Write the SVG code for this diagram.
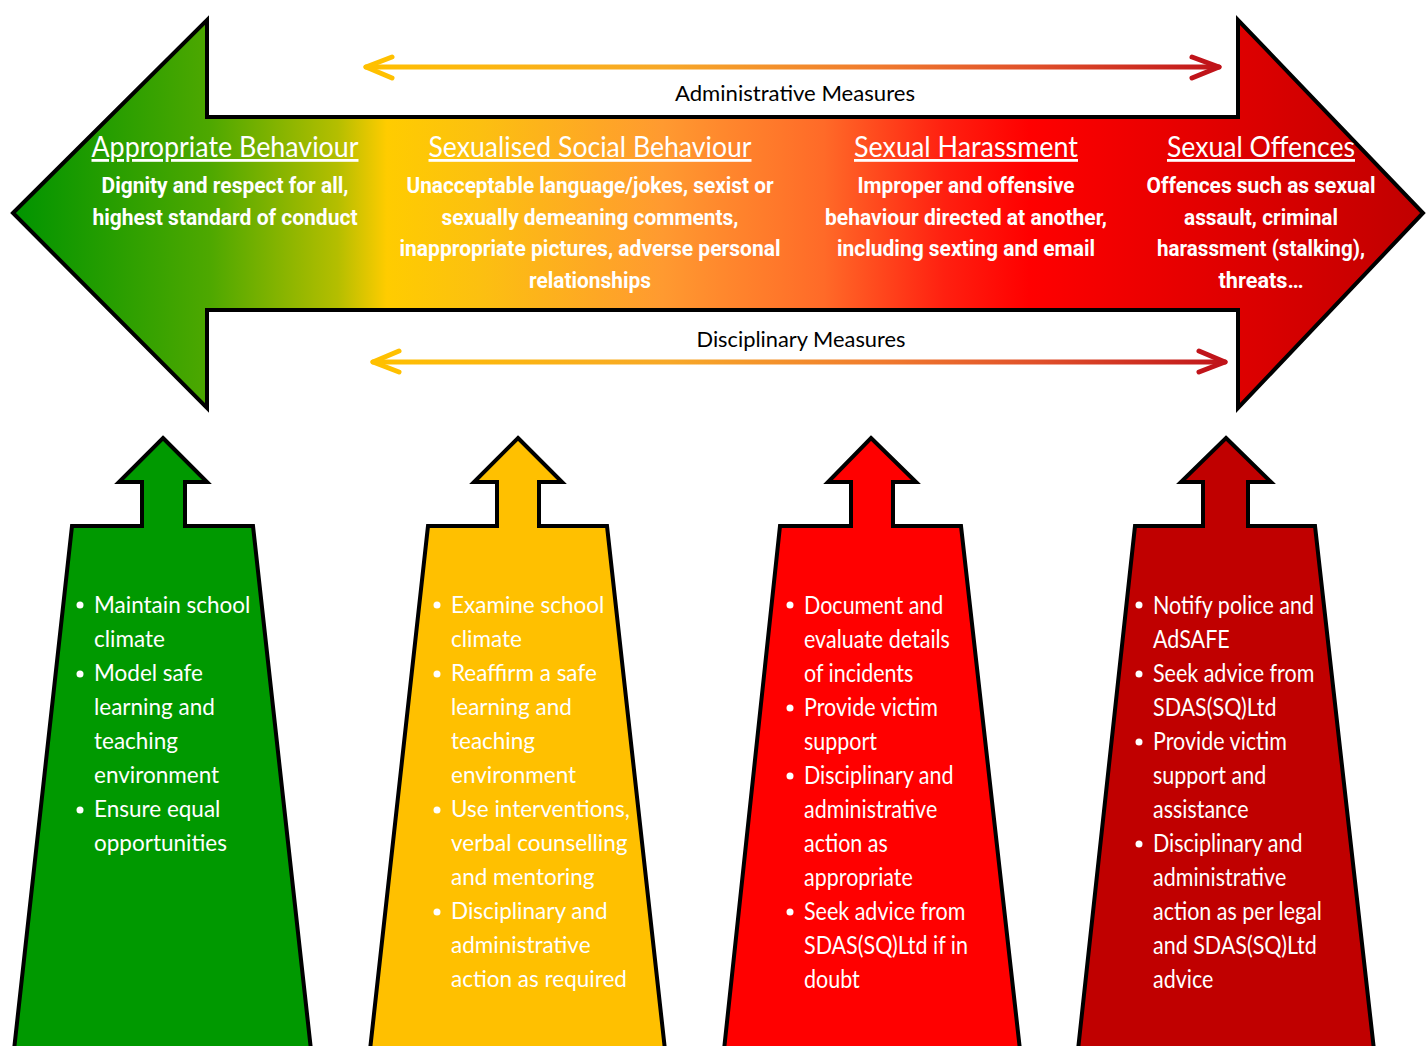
<svg xmlns="http://www.w3.org/2000/svg" width="1426" height="1046" viewBox="0 0 1426 1046">
<defs>
<linearGradient id="bigGrad" gradientUnits="userSpaceOnUse" x1="13" y1="0" x2="1424" y2="0">
<stop offset="0" stop-color="#009400"/>
<stop offset="0.14" stop-color="#4EA800"/>
<stop offset="0.23" stop-color="#B4BE00"/>
<stop offset="0.265" stop-color="#FFCC00"/>
<stop offset="0.33" stop-color="#FCC010"/>
<stop offset="0.46" stop-color="#FF9A30"/>
<stop offset="0.575" stop-color="#FF6A28"/>
<stop offset="0.66" stop-color="#FF2010"/>
<stop offset="0.72" stop-color="#FF0000"/>
<stop offset="1" stop-color="#C00000"/>
</linearGradient>
<linearGradient id="topLine" gradientUnits="userSpaceOnUse" x1="365" y1="0" x2="1220" y2="0">
<stop offset="0" stop-color="#FFC000"/>
<stop offset="0.35" stop-color="#F7A828"/>
<stop offset="0.6" stop-color="#F07A2E"/>
<stop offset="0.78" stop-color="#E0502A"/>
<stop offset="1" stop-color="#C0141A"/>
</linearGradient>
<linearGradient id="botLine" gradientUnits="userSpaceOnUse" x1="372" y1="0" x2="1226" y2="0">
<stop offset="0" stop-color="#FFC000"/>
<stop offset="0.35" stop-color="#F7A828"/>
<stop offset="0.6" stop-color="#F07A2E"/>
<stop offset="0.78" stop-color="#E0502A"/>
<stop offset="1" stop-color="#C0141A"/>
</linearGradient>
</defs>
<style>
.outline{stroke:#000;stroke-width:4;stroke-linejoin:miter}
.measure{fill:none;stroke-width:5;stroke-linecap:round;stroke-linejoin:round}
.head{font-family:Lato,"Liberation Sans",sans-serif;font-size:28px;fill:#fff;text-anchor:middle;text-decoration:underline}
.sub{font-family:Roboto,"Liberation Sans",sans-serif;font-weight:bold;font-size:22.5px;fill:#fff;text-anchor:middle}
.mlabel{font-family:Lato,"Liberation Sans",sans-serif;font-size:21px;fill:#000;text-anchor:middle}
.bul{font-family:Lato,"Liberation Sans",sans-serif;font-size:22.5px;fill:#fff}
.bulc{font-family:Lato,"Liberation Sans",sans-serif;font-size:25px;fill:#fff}
.dot{fill:#fff}
</style>
<rect width="1426" height="1046" fill="#fff"/>

<g id="main-arrow">
<path class="outline" fill="url(#bigGrad)" d="M13,213 L207,20 L207,117 L1238,117 L1238,20 L1423,213 L1238,408 L1238,310 L207,310 L207,408 Z"/>
<text class="head" x="225" y="157" textLength="267" lengthAdjust="spacingAndGlyphs">Appropriate Behaviour</text>
<text class="sub" x="225" y="193" textLength="247" lengthAdjust="spacingAndGlyphs">Dignity and respect for all,</text>
<text class="sub" x="225" y="225" textLength="265" lengthAdjust="spacingAndGlyphs">highest standard of conduct</text>
<text class="head" x="590" y="157" textLength="323" lengthAdjust="spacingAndGlyphs">Sexualised Social Behaviour</text>
<text class="sub" x="590" y="193" textLength="367" lengthAdjust="spacingAndGlyphs">Unacceptable language/jokes, sexist or</text>
<text class="sub" x="590" y="225" textLength="297" lengthAdjust="spacingAndGlyphs">sexually demeaning comments,</text>
<text class="sub" x="590" y="256" textLength="381" lengthAdjust="spacingAndGlyphs">inappropriate pictures, adverse personal</text>
<text class="sub" x="590" y="288" textLength="122" lengthAdjust="spacingAndGlyphs">relationships</text>
<text class="head" x="966" y="157" textLength="224" lengthAdjust="spacingAndGlyphs">Sexual Harassment</text>
<text class="sub" x="966" y="193" textLength="217" lengthAdjust="spacingAndGlyphs">Improper and offensive</text>
<text class="sub" x="966" y="225" textLength="282" lengthAdjust="spacingAndGlyphs">behaviour directed at another,</text>
<text class="sub" x="966" y="256" textLength="258" lengthAdjust="spacingAndGlyphs">including sexting and email</text>
<text class="head" x="1261" y="157" textLength="188" lengthAdjust="spacingAndGlyphs">Sexual Offences</text>
<text class="sub" x="1261" y="193" textLength="229" lengthAdjust="spacingAndGlyphs">Offences such as sexual</text>
<text class="sub" x="1261" y="225" textLength="154" lengthAdjust="spacingAndGlyphs">assault, criminal</text>
<text class="sub" x="1261" y="256" textLength="208" lengthAdjust="spacingAndGlyphs">harassment (stalking),</text>
<text class="sub" x="1261" y="288" textLength="85" lengthAdjust="spacingAndGlyphs">threats…</text>
</g>

<g id="connectors">
<g id="admin-measures">
<path class="measure" stroke="url(#topLine)" d="M366,67 L1219,67"/>
<path class="measure" stroke="#FFC000" d="M392,57 L366,67 L392,78"/>
<path class="measure" stroke="#C0141A" d="M1192,57 L1219,67 L1192,78"/>
</g>
<g id="disc-measures">
<path class="measure" stroke="url(#botLine)" d="M373,362 L1225,362"/>
<path class="measure" stroke="#FFC000" d="M399,351 L373,362 L399,372"/>
<path class="measure" stroke="#C0141A" d="M1199,351 L1225,362 L1199,372"/>
</g>
</g>
<text class="mlabel" x="795" y="101" textLength="240" lengthAdjust="spacingAndGlyphs">Administrative Measures</text>
<text class="mlabel" x="801" y="347" textLength="209" lengthAdjust="spacingAndGlyphs">Disciplinary Measures</text>

<g id="col-green">
<path class="outline" fill="#009900" d="M163,438 L207,482 L185,482 L185,526 L253,526 L311,1050 L14,1050 L72,526 L142,526 L142,482 L119,482 Z"/>
<circle class="dot" cx="80" cy="605" r="3.5"/>
<circle class="dot" cx="80" cy="674" r="3.5"/>
<circle class="dot" cx="80" cy="810" r="3.5"/>
<text class="bul" x="94">
<tspan x="94" y="613">Maintain school</tspan>
<tspan x="94" y="647">climate</tspan>
<tspan x="94" y="681">Model safe</tspan>
<tspan x="94" y="715">learning and</tspan>
<tspan x="94" y="749">teaching</tspan>
<tspan x="94" y="783">environment</tspan>
<tspan x="94" y="817">Ensure equal</tspan>
<tspan x="94" y="851">opportunities</tspan>
</text>
</g>

<g id="col-yellow">
<path class="outline" fill="#FFC000" d="M518,438 L562,482 L539,482 L539,526 L607,526 L665,1050 L370,1050 L428,526 L497,526 L497,482 L474,482 Z"/>
<circle class="dot" cx="437" cy="605" r="3.5"/>
<circle class="dot" cx="437" cy="674" r="3.5"/>
<circle class="dot" cx="437" cy="810" r="3.5"/>
<circle class="dot" cx="437" cy="912" r="3.5"/>
<text class="bul">
<tspan x="451" y="613">Examine school</tspan>
<tspan x="451" y="647">climate</tspan>
<tspan x="451" y="681">Reaffirm a safe</tspan>
<tspan x="451" y="715">learning and</tspan>
<tspan x="451" y="749">teaching</tspan>
<tspan x="451" y="783">environment</tspan>
<tspan x="451" y="817">Use interventions,</tspan>
<tspan x="451" y="851">verbal counselling</tspan>
<tspan x="451" y="885">and mentoring</tspan>
<tspan x="451" y="919">Disciplinary and</tspan>
<tspan x="451" y="953">administrative</tspan>
<tspan x="451" y="987">action as required</tspan>
</text>
</g>

<g id="col-red">
<path class="outline" fill="#FF0000" d="M871,438 L916,482 L893,482 L893,526 L961,526 L1020,1050 L724,1050 L780,526 L851,526 L851,482 L828,482 Z"/>
<circle class="dot" cx="790" cy="605" r="3.5"/>
<circle class="dot" cx="790" cy="708" r="3.5"/>
<circle class="dot" cx="790" cy="776" r="3.5"/>
<circle class="dot" cx="790" cy="912" r="3.5"/>
<g transform="translate(804,0) scale(0.86,1)">
<text class="bulc">
<tspan x="0" y="614">Document and</tspan>
<tspan x="0" y="648">evaluate details</tspan>
<tspan x="0" y="682">of incidents</tspan>
<tspan x="0" y="716">Provide victim</tspan>
<tspan x="0" y="750">support</tspan>
<tspan x="0" y="784">Disciplinary and</tspan>
<tspan x="0" y="818">administrative</tspan>
<tspan x="0" y="852">action as</tspan>
<tspan x="0" y="886">appropriate</tspan>
<tspan x="0" y="920">Seek advice from</tspan>
<tspan x="0" y="954">SDAS(SQ)Ltd if in</tspan>
<tspan x="0" y="988">doubt</tspan>
</text>
</g>
</g>

<g id="col-darkred">
<path class="outline" fill="#C00000" d="M1226,438 L1271,482 L1248,482 L1248,526 L1315,526 L1374,1050 L1078,1050 L1135,526 L1203,526 L1203,482 L1181,482 Z"/>
<circle class="dot" cx="1139" cy="605" r="3.5"/>
<circle class="dot" cx="1139" cy="674" r="3.5"/>
<circle class="dot" cx="1139" cy="742" r="3.5"/>
<circle class="dot" cx="1139" cy="844" r="3.5"/>
<g transform="translate(1153,0) scale(0.86,1)">
<text class="bulc">
<tspan x="0" y="614">Notify police and</tspan>
<tspan x="0" y="648">AdSAFE</tspan>
<tspan x="0" y="682">Seek advice from</tspan>
<tspan x="0" y="716">SDAS(SQ)Ltd</tspan>
<tspan x="0" y="750">Provide victim</tspan>
<tspan x="0" y="784">support and</tspan>
<tspan x="0" y="818">assistance</tspan>
<tspan x="0" y="852">Disciplinary and</tspan>
<tspan x="0" y="886">administrative</tspan>
<tspan x="0" y="920">action as per legal</tspan>
<tspan x="0" y="954">and SDAS(SQ)Ltd</tspan>
<tspan x="0" y="988">advice</tspan>
</text>
</g>
</g>
</svg>
